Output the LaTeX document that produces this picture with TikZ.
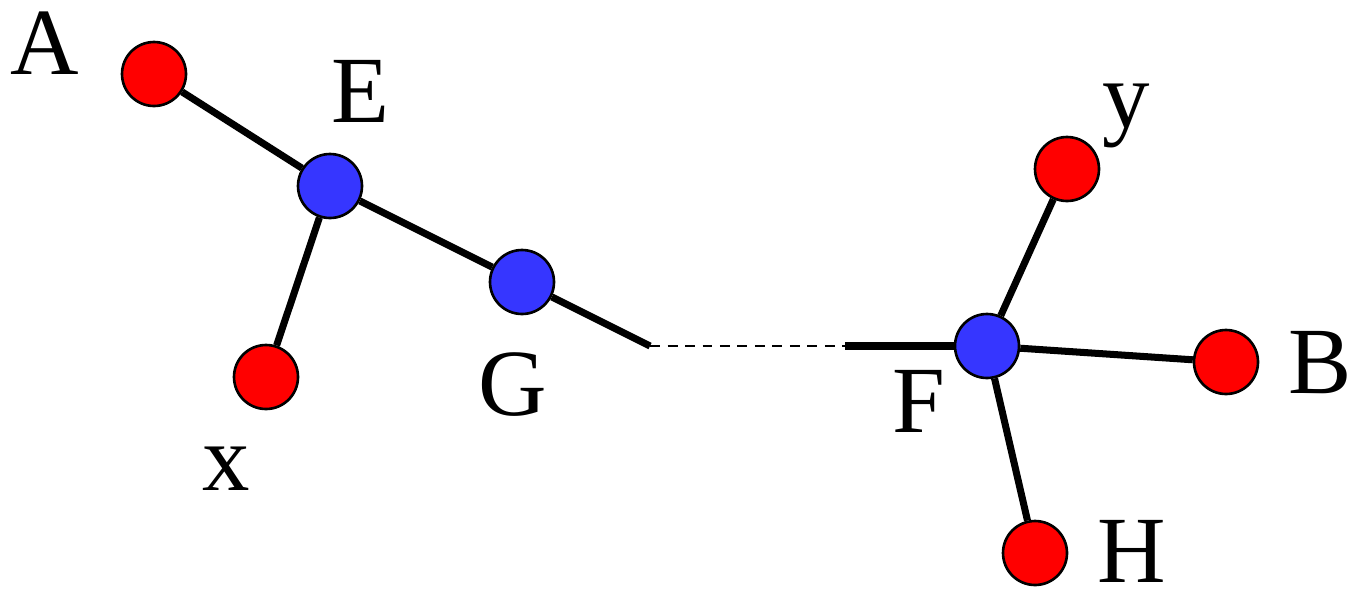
\documentclass[tikz,border=0pt]{standalone}
\usepackage{fontspec}
\setmainfont{Liberation Serif}
\usepackage{tikz}
\usetikzlibrary{calc}
\definecolor{leafred}{RGB}{255,0,0}
\definecolor{innerblue}{RGB}{54,54,255}

\begin{document}
\begin{tikzpicture}[x=0.02cm, y=-0.02cm,
    leaf/.style={circle, draw=black, line width=1.5pt, fill=leafred, minimum size=1.28cm, inner sep=0pt},
    inner/.style={circle, draw=black, line width=1.5pt, fill=innerblue, minimum size=1.28cm, inner sep=0pt},
    edge/.style={line width=4pt},
    gap/.style={line width=1.4pt, dash pattern=on 0.2cm off 0.15cm},
    lbl/.style={anchor=base, inner sep=0pt, font=\fontsize{54}{60}\selectfont}]
    \useasboundingbox (0,0) rectangle (1351,589);
    % tree nodes
    \node[leaf] (A) at (154,74) {};
    \node[inner] (E) at (330,186) {};
    \node[leaf] (x) at (266,377) {};
    \node[inner] (G) at (522,282) {};
    \node[inner] (F) at (987,346) {};
    \node[leaf] (y) at (1067,169) {};
    \node[leaf] (B) at (1226,362) {};
    \node[leaf] (H) at (1035,553) {};
    \coordinate (g1) at (650,346);
    \coordinate (f1) at (845,346);
    % edges
    \draw[edge] (A) -- (E);
    \draw[edge] (E) -- (x);
    \draw[edge] (E) -- (G);
    \draw[edge] (G) -- (g1);
    \draw[gap] (g1) -- (f1);
    \draw[edge] (f1) -- (F);
    \draw[edge] (F) -- (y);
    \draw[edge] (F) -- (B);
    \draw[edge] (F) -- (H);
    % labels
    \node[lbl] (lA) at (45,74) {A};
    \node[lbl] (lE) at (360,122) {E};
    \node[lbl] (lx) at (226,490) {x};
    \node[lbl] (lG) at (513,415) {G};
    \node[lbl] (lF) at (919,432) {F};
    \node[lbl] (ly) at (1126,127) {y};
    \node[lbl] (lB) at (1320,393) {B};
    \node[lbl] (lH) at (1132,582) {H};
\end{tikzpicture}
\end{document}
